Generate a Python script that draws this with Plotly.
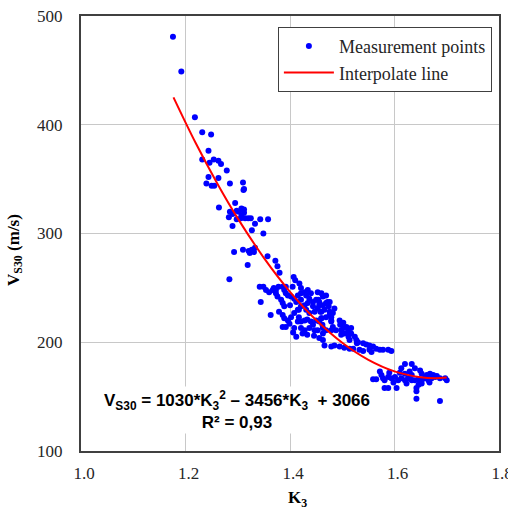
import plotly.graph_objects as go

k3 = [1.176,1.192,1.218,1.232,1.249,1.244,1.232,1.246,1.254,1.263,1.268,1.279,1.244,1.263,1.240,1.250,1.255,1.285,1.310,1.312,
      1.264,1.295,1.307,1.312,1.285,1.290,1.283,1.298,1.302,1.309,1.312,1.307,1.298,1.306,1.314,1.320,1.325,1.333,1.343,1.358,
      1.290,1.327,1.349,1.311,
      1.293,1.310,1.321,1.323,1.327,1.333,1.331,1.357,1.372,1.376,1.380,1.319,1.284,1.342,1.349,1.369,1.378,1.386,1.392,1.407,
      1.410,1.418,1.421,1.344,1.363,1.354,1.360,1.367,1.373,1.389,1.392,1.373,1.376,1.383,1.386,1.389,1.396,1.402,1.408,1.415,
      1.421,1.428,1.434,1.440,1.437,1.444,1.450,1.456,1.463,1.469,1.476,
      1.379,1.386,1.389,1.396,1.402,1.408,1.415,1.421,1.428,1.434,1.392,1.408,1.421,1.428,1.437,1.447,1.453,1.463,1.469,1.479,
      1.488,1.399,1.415,1.428,1.440,1.450,1.460,1.469,1.476,1.482,1.479,1.431,1.437,1.447,1.453,1.460,1.466,1.386,1.412,1.456,
      1.405,
      1.472,1.474,1.476,1.479,1.479,1.482,1.485,1.495,1.496,1.498,1.498,1.508,1.511,1.512,1.514,1.517,1.524,1.527,1.528,1.530,
      1.540,1.546,1.552,1.559,1.565,1.572,1.578,1.588,1.594,1.463,1.466,1.479,1.485,1.495,1.504,1.514,1.521,1.533,1.540,1.552,
      1.556,
      1.454,1.456,1.458,1.460,1.462,1.463,1.502,1.502,1.504,1.517,1.453,1.460,1.463,1.469,
      1.620,1.633,1.613,1.620,1.629,1.639,1.649,1.652,1.662,1.668,1.674,1.681,1.697,1.700,1.572,1.575,1.578,1.581,1.588,1.594,
      1.601,1.607,1.613,1.620,1.626,1.633,1.639,1.646,1.652,1.658,1.665,1.671,1.678,1.687,1.559,1.565,1.581,1.588,1.604,1.642,
      1.642,1.646,1.642,1.687,
      1.590,1.610,1.598,1.623,1.652,1.667,1.633,1.424,
      1.421,1.431,1.444,1.412,1.400,1.417,1.433,1.444,1.456,1.421,1.406,1.433,1.446,1.417]

vs30 = [481,449,407,393,391,376,368,365,368,367,364,358,352,351,346,344,344,346,347,341,
        324,328,323,322,320,318,315,321,320,322,319,316,313,314,314,314,314,309,313,313,
        307,303,300,340,
        283,285,284,282,285,287,283,279,275,270,264,271,258,251,251,250,251,251,251,260,
        257,254,250,237,225,248,246,248,248,248,245,245,242,239,236,233,243,242,240,243,
        245,246,248,245,240,237,239,237,234,236,237,
        228,225,222,220,223,227,230,233,234,236,214,213,213,211,213,211,211,213,211,211,
        211,217,219,220,219,220,222,223,225,227,220,230,227,228,231,228,230,214,205,204,
        251,
        237,233,228,223,219,214,231,220,216,211,207,214,210,205,202,208,205,202,199,200,
        199,198,197,196,194,193,193,193,192,202,197,196,197,196,195,194,194,193,192,193,
        191,
        239,234,228,222,216,208,218,213,208,213,246,245,242,243,
        180,180,176,171,173,176,174,171,170,171,170,169,167,165,173,170,167,165,168,167,
        168,165,167,165,167,165,165,166,165,167,165,167,168,167,166,166,158,158,158,158,
        155,161,148,146,
        172,172,163,162,162,163,170,208,
        239,243,233,237,234,223,221,216,219,219,209,207,206,230]

# Interpolation (regression) line
fit_k = [1.177, 1.22, 1.26, 1.30, 1.35, 1.40, 1.45, 1.50, 1.55, 1.60, 1.65, 1.678, 1.70]
fit_v = [425.2, 382.7, 346.7, 313.9, 277.6, 246.4, 220.4, 199.5, 183.8, 173.2, 167.8, 166.9, 167.5]

x_ticks = [1.0, 1.2, 1.4, 1.6, 1.8]
x_tick_labels = ["1.0", "1.2", "1.4", "1.6", "1.8"]
y_ticks = [100, 200, 300, 400, 500]
y_tick_labels = ["100", "200", "300", "400", "500"]

serif = "Liberation Serif"
sans = "Liberation Sans"

fig = go.Figure()
fig.add_trace(go.Scatter(
    x=k3, y=vs30, mode="markers", name="Measurement points",
    marker=dict(color="#0000FF", size=6, line=dict(width=0)),
))
fig.add_trace(go.Scatter(
    x=fit_k, y=fit_v, mode="lines", name="Interpolate line",
    line=dict(color="#FF0000", width=2, shape="spline"),
))

axis_common = dict(
    showline=True, mirror=True, linecolor="#404040", linewidth=2,
    showgrid=True, gridcolor="#C8C8C8", gridwidth=1,
    zeroline=False, ticks="", automargin=False,
    ticklabeloverflow="allow",
    tickfont=dict(family=serif, size=17, color="#262626"),
)

fig.update_layout(
    width=508, height=520,
    margin=dict(l=81, r=9, t=16, b=69),
    paper_bgcolor="white", plot_bgcolor="white",
    showlegend=True,
    legend=dict(
        x=0.983, y=0.975, xanchor="right", yanchor="top",
        bgcolor="white", bordercolor="#404040", borderwidth=1,
        font=dict(family=serif, size=18, color="#262626"),
        tracegroupgap=0, itemwidth=50,
    ),
    xaxis=dict(range=[1.0, 1.8], tickvals=x_ticks, ticktext=x_tick_labels,
               ticklabelstandoff=6, ticklabelshift=3, **axis_common),
    yaxis=dict(range=[100, 500], tickvals=y_ticks, ticktext=y_tick_labels,
               ticklabelstandoff=13, **axis_common),
    annotations=[
        dict(
            text="<b>V<sub>S30</sub> = 1030*K<sub>3</sub><sup>2</sup> \u2013 3456*K<sub>3</sub>\u00a0 + 3066<br>R\u00b2 = 0,93</b>",
            xref="paper", yref="paper", x=0.373, y=0.094,
            xanchor="center", yanchor="middle", showarrow=False,
            align="center", bgcolor="white",
            font=dict(family=sans, size=17, color="#000000"),
        ),
        dict(
            text="<b>V<sub>S30</sub> (m/s)</b>",
            xref="paper", yref="paper", x=-0.158, y=0.462,
            xanchor="center", yanchor="middle", showarrow=False,
            textangle=-90,
            font=dict(family=serif, size=17, color="#000000"),
        ),
        dict(
            text="<b>K<sub>3</sub></b>",
            xref="paper", yref="paper", x=0.517, y=-0.11,
            xanchor="center", yanchor="middle", showarrow=False,
            font=dict(family=serif, size=17, color="#000000"),
        ),
    ],
)

fig.write_html(
    "out.html",
    config={"displayModeBar": False},
    post_script="document.body.style.margin='0';document.body.style.overflow='hidden';",
)
